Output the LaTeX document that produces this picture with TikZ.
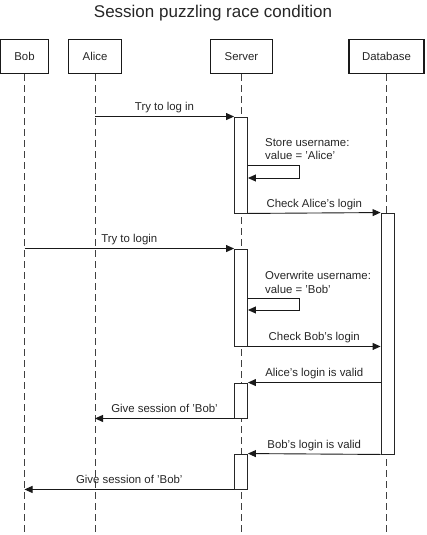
\documentclass[tikz,border=0pt]{standalone}
\usepackage{fontspec}
\setmainfont{Liberation Sans}
\usetikzlibrary{arrows.meta}

\begin{document}
\begin{tikzpicture}[
                x=1pt,
                y=-1pt,
                title/.style={
                    text=black!85,
                    font=\fontsize{17}{20}\selectfont
                },
                actor/.style={
                    draw=black!90,
                    line width=1.2pt,
                    fill=white,
                    minimum height=34pt,
                    inner sep=0pt,
                    text=black!85,
                    font=\fontsize{11.4}{13.5}\selectfont
                },
                lifeline/.style={
                    black!75,
                    line width=0.8pt,
                    dash pattern=on 7pt off 4pt
                },
                activation/.style={
                    draw=black!85,
                    line width=0.9pt,
                    fill=white,
                    minimum width=13pt,
                    inner sep=0pt
                },
                msg/.style={
                    black!90,
                    line width=0.9pt,
                    -{Triangle[length=8pt,width=7pt]}
                },
                msglabel/.style={
                    anchor=base,
                    yshift=6pt,
                    inner sep=0pt,
                    text=black!85,
                    font=\fontsize{11.4}{13.5}\selectfont
                },
                note/.style={
                    anchor=north west,
                    align=left,
                    inner sep=0pt,
                    text=black!85,
                    font=\fontsize{11.4}{13.5}\selectfont
                }
            ]

                \useasboundingbox (0,0) rectangle (427,535);

                \node[title] (title) at (213,13.5) {Session puzzling race condition};

                \node[actor, minimum width=48pt] (bob) at (24.5,56.5) {Bob};
                \node[actor, minimum width=53pt] (alice) at (95,56.5) {Alice};
                \node[actor, minimum width=62pt] (server) at (241.5,56.5) {Server};
                \node[actor, minimum width=75pt] (db) at (386.5,56.5) {Database};

                % lifelines
                \foreach \who in {bob,alice,server,db}
                    \draw[lifeline] (\who) -- (\who |- 0,535);

                % activations
                \node[activation, minimum height=96pt] (srv1) at (241,165) {};
                \node[activation, minimum height=97pt] (srv2) at (241,297.5) {};
                \node[activation, minimum height=35pt] (srv3) at (241,400.5) {};
                \node[activation, minimum height=35pt] (srv4) at (241,471.5) {};
                \node[activation, minimum height=241pt] (db1) at (387.5,333.5) {};

                \coordinate (self1) at (299,165);
                \coordinate (self2) at (299,298);

                \draw[msg] (alice |- srv1.north) -- (srv1.north west)
                    node[msglabel, midway] {Try to log in};
                \node[note] (store) at (265,138) {Store username:\\value = 'Alice'};
                \draw[msg] (srv1.east |- self1) -- (self1) -- (299,178) -- (srv1.east |- 0,178);
                \draw[msg] (srv1.south east) -- (db1.north west)
                    node[msglabel, midway] {Check Alice's login};

                \draw[msg] (bob |- srv2.north) -- (srv2.north west)
                    node[msglabel, midway] {Try to login};
                \node[note] (overwrite) at (265,271.5) {Overwrite username:\\value = 'Bob'};
                \draw[msg] (srv2.east |- self2) -- (self2) -- (299,310) -- (srv2.east |- 0,310);
                \draw[msg] (srv2.south east) -- (db1.west |- srv2.south)
                    node[msglabel, midway] {Check Bob's login};

                \draw[msg] (db1.west |- srv3.north) -- (srv3.north east)
                    node[msglabel, midway] {Alice's login is valid};
                \draw[msg] (srv3.south west) -- (alice |- srv3.south)
                    node[msglabel, midway] {Give session of 'Bob'};

                \draw[msg] (db1.south west) -- (srv4.north east)
                    node[msglabel, midway] {Bob's login is valid};
                \draw[msg] (srv4.south west) -- (bob |- srv4.south)
                    node[msglabel, midway] {Give session of 'Bob'};

            \end{tikzpicture}
\end{document}
